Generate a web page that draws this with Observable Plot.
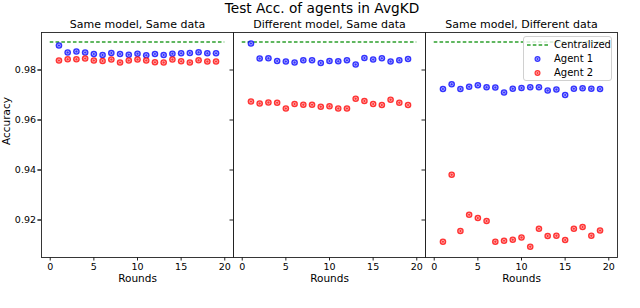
<!DOCTYPE html>
<html>
<head>
<meta charset="utf-8">
<script src="https://cdn.jsdelivr.net/npm/d3@7"></script>
<script src="https://cdn.jsdelivr.net/npm/@observablehq/plot@0.6"></script>
<style>
  html, body { margin: 0; padding: 0; background: #fff; }
  #wrap { position: relative; width: 640px; height: 308px; font-family: "DejaVu Sans", sans-serif; }
  #title { position: absolute; left: 0; top: 0; width: 644px; text-align: center; font-size: 13.7px; line-height: 16px; color: #000; }
  #legend { position: absolute; left: 523px; top: 36px; width: 89px; height: 45px; box-sizing: border-box;
            border: 1px solid #d0d0d0; border-radius: 3px; background: rgba(255,255,255,0.8); font-size: 10px; color: #000; }
  .row { position: absolute; left: 0; height: 14px; width: 100%; }
  .row svg { position: absolute; left: 3px; top: 0; }
  .row span { position: absolute; left: 30px; top: 0; line-height: 14px; }
</style>
</head>
<body>
<div id="wrap">
  <div id="chart"></div>
  <div id="title">Test Acc. of agents in AvgKD</div>
  <div id="legend"></div>
</div>
<script>
// ---- data ----
const panels = ["Same model, Same data", "Different model, Same data", "Same model, Different data"];
const rounds = [1,2,3,4,5,6,7,8,9,10,11,12,13,14,15,16,17,18,19];
const agent1SameSame = [0.9898,0.9870,0.9874,0.9870,0.9864,0.9860,0.9868,0.9864,0.9861,0.9865,0.9859,0.9864,0.9860,0.9865,0.9867,0.9868,0.9871,0.9867,0.9867];
const agent2SameSame = [0.9838,0.9843,0.9843,0.9846,0.9838,0.9836,0.9842,0.9830,0.9838,0.9842,0.9838,0.9831,0.9830,0.9842,0.9835,0.9830,0.9839,0.9834,0.9834];
const agent1DiffModel = [0.9906,0.9846,0.9847,0.9836,0.9834,0.9830,0.9839,0.9839,0.9828,0.9836,0.9835,0.9839,0.9822,0.9848,0.9842,0.9847,0.9834,0.9839,0.9844];
const agent2DiffModel = [0.9674,0.9666,0.9670,0.9669,0.9646,0.9664,0.9661,0.9661,0.9653,0.9655,0.9646,0.9646,0.9685,0.9676,0.9664,0.9660,0.9681,0.9669,0.9660];
const agent1DiffData = [0.9724,0.9743,0.9724,0.9733,0.9739,0.9731,0.9730,0.9710,0.9725,0.9728,0.9731,0.9731,0.9718,0.9722,0.9700,0.9725,0.9727,0.9725,0.9724];
const agent2DiffData = [0.9113,0.9381,0.9156,0.9221,0.9208,0.9196,0.9113,0.9117,0.9121,0.9130,0.9093,0.9165,0.9136,0.9137,0.9120,0.9165,0.9172,0.9137,0.9158];
const centralized = 0.9912;
const centralStart = 0;
const centralEnd = 20;
const xTicks = [0, 5, 10, 15, 20];
const yTicks = [0.92, 0.94, 0.96, 0.98];
const agents = ["Agent 1", "Agent 2"];
const colors = ["blue", "red"];
const centralColor = "#2ca02c";
const yLabel = "Accuracy";
const xLabel = "Rounds";

// ---- table ----
const series = [
  [agent1SameSame, agent2SameSame],
  [agent1DiffModel, agent2DiffModel],
  [agent1DiffData, agent2DiffData]
];
const rows = [];
panels.forEach((p, pi) => {
  series[pi].forEach((vals, ai) => {
    vals.forEach((v, i) => rows.push({panel: p, agent: agents[ai], round: rounds[i], acc: v}));
  });
});
const central = panels.map(p => ({panel: p, v: centralized, a: centralStart, b: centralEnd}));

const chart = Plot.plot({
  width: 640,
  height: 308,
  marginTop: 32,
  marginBottom: 51,
  marginLeft: 40,
  marginRight: 22,
  style: {fontFamily: "DejaVu Sans, sans-serif", fontSize: "9.5px", color: "#000", background: "#fff"},
  fx: {domain: panels, padding: 0, axis: null},
  x: {domain: [-1, 21], axis: null},
  y: {domain: [0.905, 0.995], axis: null},
  color: {domain: agents, range: colors},
  marks: [
    Plot.axisFx({anchor: "top", tickSize: 0, tickPadding: 5, label: null, fontSize: 11}),
    Plot.ruleY(central, {fx: "panel", y: "v", x1: "a", x2: "b", stroke: centralColor, strokeWidth: 1.6, strokeDasharray: "3.6,2.2"}),
    Plot.dot(rows, {fx: "panel", x: "round", y: "acc", r: 3.3, fill: "agent", fillOpacity: 0.8, stroke: "none"}),
    Plot.dot(rows, {fx: "panel", x: "round", y: "acc", r: 1.5, fill: "none", stroke: "white", strokeOpacity: 0.75, strokeWidth: 0.7}),
    Plot.frame({stroke: "#222", strokeWidth: 0.9}),
    Plot.axisX({ticks: xTicks, tickSize: 3.5, tickPadding: 2, label: null, stroke: "#222"}),
    Plot.text([xLabel], {frameAnchor: "bottom", lineAnchor: "top", dy: 17, fontSize: 10.5}),
    Plot.axisY({ticks: yTicks, tickSize: 3.5, tickPadding: 2, tickFormat: ".2f", label: null, fontSize: 9.5, stroke: "#222"}),
    Plot.axisY({ticks: yTicks, tickSize: 3.5, label: null, facetAnchor: null, fill: "none", stroke: "#222"}),
    Plot.text([{panel: panels[0], t: yLabel}], {fx: "panel", text: "t", frameAnchor: "left", rotate: -90, dx: -35, fontSize: 10.5})
  ]
});
document.getElementById("chart").appendChild(chart);

// ---- legend ----
const legend = document.getElementById("legend");
const items = [
  {label: "Centralized", kind: "line", color: centralColor},
  {label: agents[0], kind: "dot", color: colors[0]},
  {label: agents[1], kind: "dot", color: colors[1]}
];
items.forEach((it, i) => {
  const row = document.createElement("div");
  row.className = "row";
  row.style.top = (1 + i * 14) + "px";
  const sw = it.kind === "line"
    ? `<svg width="22" height="14"><line x1="0" y1="7" x2="21" y2="7" stroke="${it.color}" stroke-width="1.6" stroke-dasharray="3.6,2.2"/></svg>`
    : `<svg width="22" height="14"><circle cx="10.5" cy="7" r="3" fill="${it.color}" fill-opacity="0.8"/><circle cx="10.5" cy="7" r="1.4" fill="none" stroke="white" stroke-opacity="0.75" stroke-width="0.7"/></svg>`;
  row.innerHTML = sw + `<span>${it.label}</span>`;
  legend.appendChild(row);
});
</script>
</body>
</html>
